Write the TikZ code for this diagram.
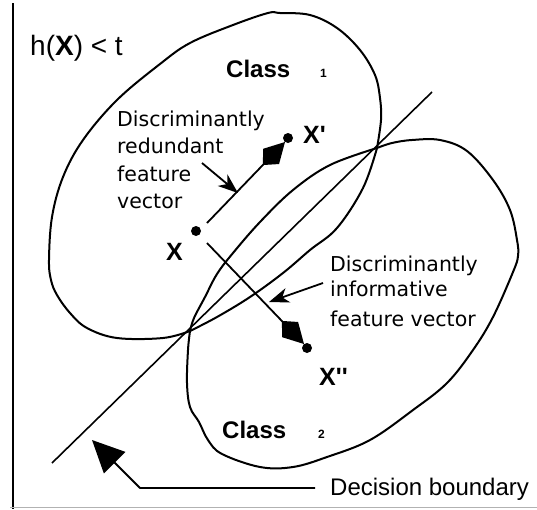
\documentclass[tikz,border=0pt]{standalone}
\usepackage{fontspec}
\setmainfont{Liberation Sans}
\newfontfamily\dejavu{DejaVu Sans}
\newfontfamily\tickfont{Liberation Sans Bold}[Ligatures=TeXOff]
\usetikzlibrary{arrows.meta}
\begin{document}
\begin{tikzpicture}[x=1pt,y=-1pt,
  blob/.style={line width=2pt, line join=round},
  vec/.style={line width=1.8pt, -{Kite[length=32pt,width=22pt,inset=12pt]}},
  pointer/.style={line width=1.8pt, -{Stealth[length=20pt,width=15pt,inset=6pt]}},
  lbl/.style={font=\dejavu\fontsize{20.5}{24}\selectfont, anchor=base west, inner sep=0pt},
  big/.style={font=\tickfont\fontsize{25}{28}\selectfont, anchor=base west, inner sep=0pt},
  cls/.style={font=\bfseries\fontsize{24}{28}\selectfont, anchor=base west, inner sep=0pt},
  sub/.style={font=\bfseries\fontsize{12}{14}\selectfont, anchor=base west, inner sep=0pt},
  pnt/.style={circle, fill, inner sep=0pt, minimum size=10pt}]
\useasboundingbox (0,0) rectangle (537,509);
\fill[white] (0,0) rectangle (537,509);

% frame lines
\draw[line width=2pt] (12.5,3) -- (12.5,509);
\draw[gray!60, line width=1.2pt] (10,507.5) -- (537,507.5);

% Class 1 region
\draw[blob] plot[smooth, tension=0.6] coordinates {(190,331) (217,317) (250,297) (283,273) (310,250) (337,228) (363,188) (377,148)}
  -- plot[smooth, tension=0.6] coordinates {(377,148) (381,120) (380,98) (375,75) (360,50) (337,28) (310,15) (280,13) (268,13) (233,25) (190,43) (160,64) (117,100) (83,140) (63,177) (52,217) (49,260) (51,280) (57,295) (70,313) (87,328) (117,338) (163,338) (190,331)} -- cycle;

% Class 2 region
\draw[blob] plot[smooth, tension=0.6] coordinates {(377,148) (392,143) (412,140) (440,140) (467,151) (493,180) (510,210) (517,240) (518,256) (513,272) (493,317) (473,350) (447,383) (413,410) (370,440) (327,457) (293,467) (260,467) (222,454) (208,440) (199,422) (190,407) (187,383) (188,350) (190,331)}
  -- plot[smooth, tension=0.6] coordinates {(190,331) (194,318) (205,297) (217,274) (233,253) (260,222) (293,190) (330,165) (377,148)} -- cycle;

% decision boundary line
\coordinate (dbA) at (52,463);
\coordinate (dbB) at (432,92);
\draw[line width=1.6pt] (dbA) -- (dbB);

% points
\node[pnt] (X) at (196,231) {};
\node[pnt] (Xp) at (288,138) {};
\node[pnt] (Xpp) at (307,348) {};

\coordinate (s1) at (207,223);
\coordinate (t1) at (285,142);
\coordinate (s2) at (207,243);
\coordinate (t2) at (304,344);
\draw[vec] (s1) -- (t1);
\draw[vec] (s2) -- (t2);

% point labels
\node[big] (lX) at (166,260) {X};
\node[big] (lXp) at (303,143) {X'};
\node[big] (lXpp) at (319,385) {X''};

% class labels
\node[cls] (c1) at (226,77) {Class};
\node[sub] (c1s) at (320,77) {1};
\node[cls] (c2) at (222,438) {Class};
\node[sub] (c2s) at (318,438) {2};

% threshold label
\node[font=\fontsize{28}{32}\selectfont, anchor=base west, inner sep=0pt] (h) at (30,55) {h(\textbf{X}) < t};

% redundant label
\node[lbl] (r1) at (117,126) {Discriminantly};
\node[lbl] (r2) at (117,153) {redundant};
\node[lbl] (r3) at (117,181) {feature};
\node[lbl] (r4) at (117,208) {vector};
\coordinate (ra) at (202,163);
\coordinate (rb) at (238,193);
\draw[pointer] (ra) -- (rb);

% informative label
\node[lbl] (i1) at (330,271) {Discriminantly};
\node[lbl] (i2) at (330,296) {informative};
\node[lbl] (i3) at (330,326) {feature vector};
\coordinate (ia) at (323,283);
\coordinate (ib) at (269,302);
\draw[pointer] (ia) -- (ib);

% decision boundary label
\node[font=\fontsize{24}{28}\selectfont, anchor=base west, inner sep=0pt] (db) at (330,495) {Decision boundary};
\coordinate (dbe) at (315,488);
\coordinate (dbk) at (140,488);
\coordinate (dbt) at (92,440);
\draw[line width=1.8pt, line join=round, -{Triangle[length=32pt,width=30pt]}] (dbe) -- (dbk) -- (dbt);
\end{tikzpicture}
\end{document}
